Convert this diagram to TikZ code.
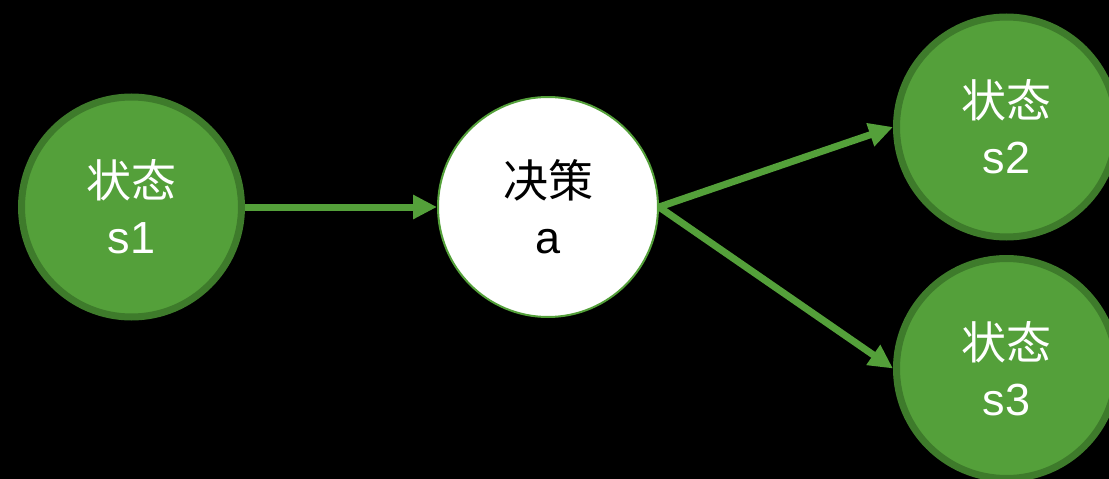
\documentclass[tikz,border=0pt]{standalone}
\usepackage{fontspec}
\setmainfont{Liberation Sans}
\newfontfamily\cjk{Noto Sans CJK SC}
\usetikzlibrary{positioning,arrows.meta}
\definecolor{stategreen}{HTML}{54A03A}
\definecolor{stateedge}{HTML}{3E7B2B}
\tikzset{
  state/.style={
    circle,
    fill=stategreen,
    draw=stateedge, line width=7pt,
    minimum size=220pt, inner sep=0pt,
    text=white, align=center,
    font=\fontsize{45}{56}\selectfont
  },
  choice/.style={
    circle,
    fill=white,
    draw=stategreen, line width=2pt,
    minimum size=220pt, inner sep=0pt,
    text=black, align=center,
    font=\fontsize{45}{56}\selectfont
  },
  link/.style={
    -{Triangle[length=24pt,width=23pt]},
    draw=stategreen, line width=7pt
  },
}
\begin{document}
\begin{tikzpicture}[x=1pt,y=-1pt]

\useasboundingbox (0,0) rectangle (1109,479);
\fill[black] (0,0) rectangle (1109,479);
\clip (0,0) rectangle (1109,479);

\node[state] (S1) at (131.5,207) {{\cjk 状态}\\s1};
\node[choice, right=192pt of S1] (DECISION) {{\cjk 决策}\\a};
\node[state, above right=80pt and 234pt of DECISION.east, anchor=west] (S2) {{\cjk 状态}\\s2};
\node[state, below right=161.5pt and 234pt of DECISION.east, anchor=west] (S3) {{\cjk 状态}\\s3};

\draw[link] (S1) -- (DECISION);
\draw[link] (DECISION.east) -- (S2.west);
\draw[link] (DECISION.east) -- (S3.west);

\end{tikzpicture}
\end{document}
